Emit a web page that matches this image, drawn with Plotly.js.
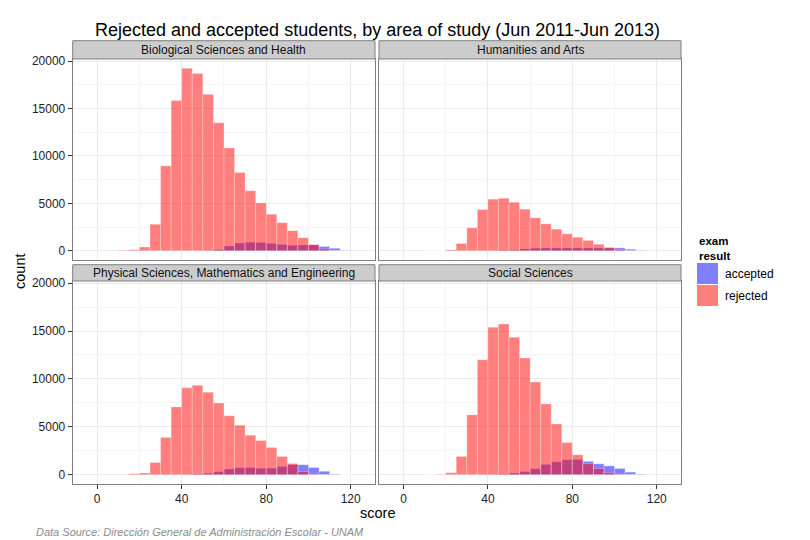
<!DOCTYPE html>
<html>
<head>
<meta charset="utf-8">
<script src="https://cdn.plot.ly/plotly-3.0.1.min.js"></script>
<style>html,body{margin:0;padding:0;background:#fff;}#chart{width:810px;height:540px;}</style>
</head>
<body>
<div id="chart"></div>
<script>
// Bin centres (bin width 5 points)
const scoreBins = [12.5,17.5,22.5,27.5,32.5,37.5,42.5,47.5,52.5,57.5,62.5,67.5,72.5,77.5,82.5,87.5,92.5,97.5,102.5,107.5,112.5,117.5];

const areas = ["Biological Sciences and Health","Humanities and Arts","Physical Sciences, Mathematics and Engineering","Social Sciences"];

const bioRejected  = [50,120,390,2800,8950,15850,19250,18700,16500,13500,10850,8250,6320,5050,3850,2970,2120,1380,670,180,0,0];
const bioAccepted  = [0,0,0,0,0,0,0,0,30,140,500,820,900,880,780,660,590,600,620,460,260,60];
const humRejected  = [0,0,100,770,2420,4350,5440,5540,5120,4390,3470,2840,2280,1790,1430,1100,690,360,100,0,0,0];
const humAccepted  = [0,0,0,0,0,0,0,60,100,200,280,300,300,300,300,300,300,300,310,170,60,10];
const physRejected = [30,100,180,1270,3890,7070,9080,9330,8620,7490,6150,5160,4130,3560,2850,1900,1180,330,60,0,0,0];
const physAccepted = [0,0,0,0,0,0,20,70,150,300,590,720,740,670,670,850,1050,1050,750,360,70,0];
const socRejected  = [0,40,210,1910,6250,12000,15400,15720,14350,12190,9680,7390,5300,3350,2080,1150,650,200,60,0,0,0];
const socAccepted  = [0,0,0,0,0,0,20,70,180,330,625,1080,1350,1560,1600,1400,1140,920,650,270,70,10];

const xTicks = [0,40,80,120];
const yTicks = [0,5000,10000,15000,20000];
const resultLabels = ["accepted","rejected"];

const W = 810, H = 540;
const colAcc = "rgba(0,0,255,0.5)";
const colRej = "rgba(255,0,0,0.5)";
const panelX = [[72.7,375],[379,681]];
const panelY = [[59,260],[281,484]];
const stripY = [[40.7,59],[264.7,281]];

const series = [[bioAccepted,bioRejected],[humAccepted,humRejected],[physAccepted,physRejected],[socAccepted,socRejected]];

const traces = [];
series.forEach((s,i)=>{
  const ax = i===0 ? "" : String(i+1);
  [[s[0],colAcc,resultLabels[0]],[s[1],colRej,resultLabels[1]]].forEach(([vals,col,name])=>{
    traces.push({
      type:"bar", x:scoreBins, y:vals, width:5, name:name,
      xaxis:"x"+ax, yaxis:"y"+ax, showlegend:false,
      marker:{color:col, line:{color:"rgba(255,255,255,0.35)", width:0.8}},
      hoverinfo:"x+y+name"
    });
  });
});

const font = {family:"Liberation Sans, Arial, Helvetica, sans-serif", color:"#000"};
const layout = {
  width:W, height:H, margin:{l:0,r:0,t:0,b:0},
  paper_bgcolor:"#fff", plot_bgcolor:"#fff",
  barmode:"overlay", bargap:0, showlegend:false,
  font:font,
  shapes:[], annotations:[]
};

function xAxis(c, showLabels){
  return {
    domain:[panelX[c][0]/W, panelX[c][1]/W], range:[-11.6,131.5],
    tickvals:xTicks, ticktext:xTicks.map(String), showticklabels:showLabels,
    ticks: showLabels ? "outside" : "", ticklen:4, tickcolor:"#333", tickwidth:1,
    tickfont:{size:12, color:"#222"},
    showgrid:true, gridcolor:"#ebebeb", gridwidth:1,
    minor:{dtick:20, tick0:0, showgrid:true, gridcolor:"#f5f5f5", gridwidth:1, ticks:""},
    showline:true, mirror:true, linecolor:"#7f7f7f", linewidth:1,
    zeroline:false, fixedrange:true
  };
}
function yAxis(r, showLabels){
  return {
    domain:[1-panelY[r][1]/H, 1-panelY[r][0]/H], range:[-970,20220],
    tickvals:yTicks, ticktext:yTicks.map(String), showticklabels:showLabels,
    ticks: showLabels ? "outside" : "", ticklen:4, tickcolor:"#333", tickwidth:1,
    tickfont:{size:12, color:"#222"},
    showgrid:true, gridcolor:"#ebebeb", gridwidth:1,
    minor:{dtick:2500, tick0:0, showgrid:true, gridcolor:"#f5f5f5", gridwidth:1, ticks:""},
    showline:true, mirror:true, linecolor:"#7f7f7f", linewidth:1,
    zeroline:false, fixedrange:true
  };
}
layout.xaxis  = Object.assign(xAxis(0,false), {anchor:"y"});
layout.yaxis  = Object.assign(yAxis(0,true),  {anchor:"x"});
layout.xaxis2 = Object.assign(xAxis(1,false), {anchor:"y2"});
layout.yaxis2 = Object.assign(yAxis(0,false), {anchor:"x2"});
layout.xaxis3 = Object.assign(xAxis(0,true),  {anchor:"y3"});
layout.yaxis3 = Object.assign(yAxis(1,true),  {anchor:"x3"});
layout.xaxis4 = Object.assign(xAxis(1,true),  {anchor:"y4"});
layout.yaxis4 = Object.assign(yAxis(1,false), {anchor:"x4"});

// facet strips
areas.forEach((name,i)=>{
  const c = i%2, r = Math.floor(i/2);
  layout.shapes.push({type:"rect", xref:"paper", yref:"paper",
    x0:panelX[c][0]/W, x1:panelX[c][1]/W, y0:1-stripY[r][1]/H, y1:1-stripY[r][0]/H,
    fillcolor:"#cccccc", line:{color:"#7f7f7f", width:1}, layer:"above"});
  layout.annotations.push({xref:"paper", yref:"paper",
    x:(panelX[c][0]+panelX[c][1])/2/W, y:1-(stripY[r][0]+stripY[r][1])/2/H,
    text:name, showarrow:false, xanchor:"center", yanchor:"middle",
    font:{size:12, color:"#111"}});
});

// legend (drawn manually)
layout.annotations.push({xref:"paper", yref:"paper", x:697/W, y:1-233/H, xanchor:"left", yanchor:"top",
  text:"<b>exam<br>result</b>", align:"left", showarrow:false, font:{size:11.5, color:"#000"}});
[[colAcc,263,resultLabels[0]],[colRej,285,resultLabels[1]]].forEach(([col,top,lab])=>{
  layout.shapes.push({type:"rect", xref:"paper", yref:"paper",
    x0:697/W, x1:718/W, y0:1-(top+21)/H, y1:1-top/H, fillcolor:col, line:{width:0}});
  layout.annotations.push({xref:"paper", yref:"paper", x:723/W, y:1-(top+10.5)/H,
    xanchor:"left", yanchor:"middle", text:lab, showarrow:false, font:{size:12, color:"#000"}});
});

// titles
layout.annotations.push({xref:"paper", yref:"paper", x:377/W, y:1-30/H, xanchor:"center", yanchor:"middle",
  text:"Rejected and accepted students, by area of study (Jun 2011-Jun 2013)", showarrow:false,
  font:{size:18, color:"#000"}});
layout.annotations.push({xref:"paper", yref:"paper", x:377/W, y:1-513/H, xanchor:"center", yanchor:"middle",
  text:"score", showarrow:false, font:{size:14.5, color:"#000"}});
layout.annotations.push({xref:"paper", yref:"paper", x:20/W, y:1-272/H, xanchor:"center", yanchor:"middle",
  text:"count", textangle:-90, showarrow:false, font:{size:14.5, color:"#000"}});
layout.annotations.push({xref:"paper", yref:"paper", x:34/W, y:1-532/H, xanchor:"left", yanchor:"middle",
  text:"<i>Data Source: Dirección General de Administración Escolar - UNAM</i>", showarrow:false,
  font:{size:11, color:"#8c8c8c"}});

Plotly.newPlot("chart", traces, layout, {displayModeBar:false, staticPlot:true});
</script>
</body>
</html>
